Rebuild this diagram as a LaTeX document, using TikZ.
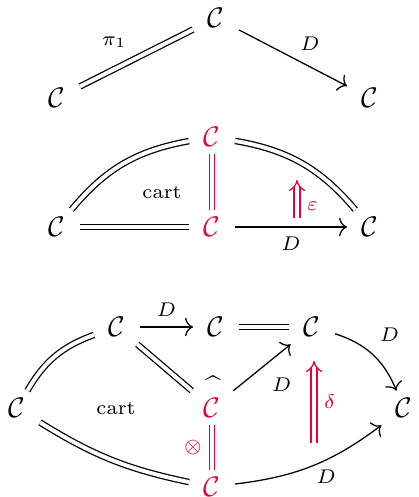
\documentclass[tikz,border=0pt]{standalone}
\usetikzlibrary{arrows.meta}
\definecolor{cred}{RGB}{235,0,60}
\begin{document}
\begin{tikzpicture}[x=0.353pt,y=-0.353pt,
  ob/.style={inner xsep=5pt,inner ysep=2.5pt},
  rob/.style={inner xsep=5pt,inner ysep=2.5pt,text=cred},
  lab/.style={font=\scriptsize},
  rlab/.style={font=\scriptsize,text=cred},
  eq/.style={double,double distance=1.4pt,line width=0.45pt},
  req/.style={double=white,double distance=1.4pt,line width=0.45pt,draw=cred},
  arr/.style={-{Computer Modern Rightarrow[length=2.8pt,width=6.4pt]},line width=0.45pt},
  twocell/.style={double=white,double distance=1.6pt,line width=0.45pt,draw=cred,-{Implies}},
]
\useasboundingbox (0,0) rectangle (418,497);
% diagram 1
\node[ob] (a1) at (216,18) {$\mathcal{C}$};
\node[ob] (a2) at (57,98) {$\mathcal{C}$};
\node[ob] (a3) at (370,98) {$\mathcal{C}$};
\draw[eq] (a2) -- node[lab,above left=0pt] {$\pi_1$} (a1);
\draw[arr] (a1) -- node[lab,above right=-1pt] {$D$} (a3);
% diagram 2
\node[rob] (b1) at (212,137) {$\mathcal{C}$};
\node[ob] (b2) at (57,227) {$\mathcal{C}$};
\node[rob] (b3) at (212,227) {$\mathcal{C}$};
\node[ob] (b4) at (370,227) {$\mathcal{C}$};
\node[lab] (bc) at (162,193) {cart};
\draw[eq] (b2) to[bend left=20] (b1);
\draw[eq] (b1) to[bend left=20] (b4);
\draw[req] (b1) -- (b3);
\draw[eq] (b2) -- (b3);
\draw[arr] (b3) -- node[lab,below] {$D$} (b4);
\coordinate (e1) at (297,218);
\coordinate (e2) at (297,180);
\draw[twocell] (e1) -- node[rlab,right,pos=0.3] {$\varepsilon$} (e2);
% diagram 3
\node[ob] (c1) at (117,327) {$\mathcal{C}$};
\node[ob] (c2) at (216,327) {$\mathcal{C}$};
\node[ob] (c3) at (312,327) {$\mathcal{C}$};
\node[ob] (c4) at (17,408) {$\mathcal{C}$};
\node[rob] (c5) at (212,408) {$\mathcal{C}$};
\node[inner sep=0pt,anchor=base] (hat) at (213,396) {\^{}};
\node[ob] (c6) at (404,408) {$\mathcal{C}$};
\node[rob] (c7) at (212,487) {$\mathcal{C}$};
\node[lab] (cc) at (116,408) {cart};
\draw[arr] (c1) -- node[lab,above] {$D$} (c2);
\draw[eq] (c2) -- (c3);
\draw[eq] (c1) -- (c5);
\draw[eq] (c4) to[bend left=20] (c1);
\draw[eq] (c4) to[bend right=10] (c7);
\draw[arr] (c5) -- node[lab,below right] {$D$} (c3);
\draw[arr] (c3) to[bend left=25] node[lab,above right,pos=0.45] {$D$} (c6);
\draw[arr] (c7) to[bend right=15] node[lab,below=0pt,pos=0.6] {$D$} (c6);
\draw[req] (c5) -- node[rlab,left] {$\otimes$} (c7);
\coordinate (d1) at (314,443);
\coordinate (d2) at (314,361);
\draw[twocell] (d1) -- node[rlab,right] {$\delta$} (d2);
\end{tikzpicture}
\end{document}
